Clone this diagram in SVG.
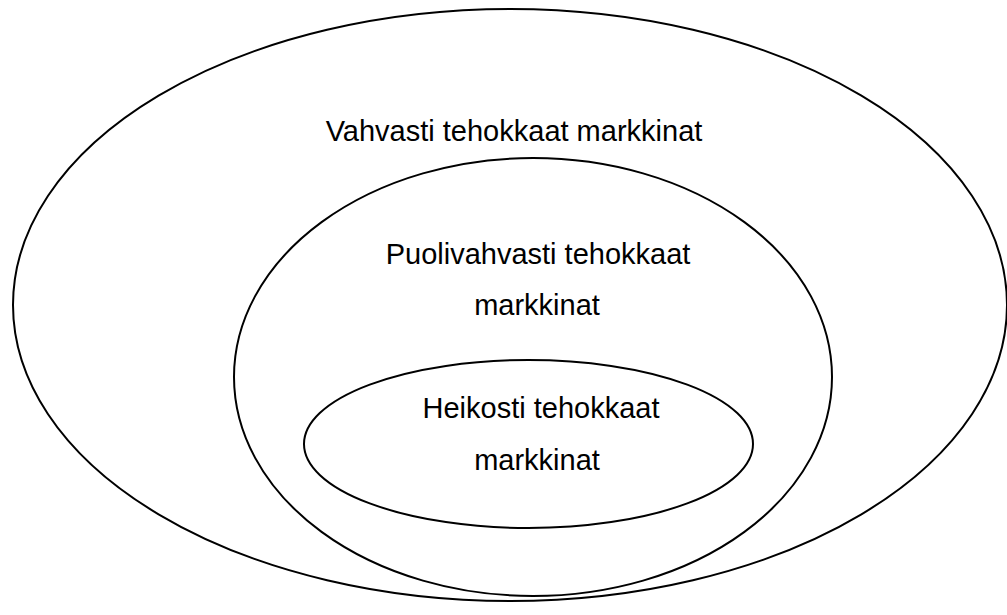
<svg xmlns="http://www.w3.org/2000/svg" width="1007" height="615" viewBox="0 0 1007 615">
  <style>
    .ring { fill: none; stroke: #000; stroke-width: 2; }
    .lbl { font-family: "Liberation Sans", Arial, sans-serif; font-size: 29px; fill: #000; text-anchor: middle; }
  </style>
  <rect width="1007" height="615" fill="#fff"/>
  <g id="strong">
    <ellipse class="ring" cx="510" cy="305" rx="497" ry="296"/>
    <text class="lbl" x="514" y="141">Vahvasti tehokkaat markkinat</text>
  </g>
  <g id="semi-strong">
    <ellipse class="ring" cx="533" cy="377" rx="299" ry="219"/>
    <text class="lbl" x="538" y="264">Puolivahvasti tehokkaat</text>
    <text class="lbl" x="537" y="315">markkinat</text>
  </g>
  <g id="weak">
    <ellipse class="ring" cx="528.5" cy="444" rx="224.5" ry="84"/>
    <text class="lbl" x="541" y="418">Heikosti tehokkaat</text>
    <text class="lbl" x="537" y="470">markkinat</text>
  </g>
  <g id="connectors"/>
</svg>
